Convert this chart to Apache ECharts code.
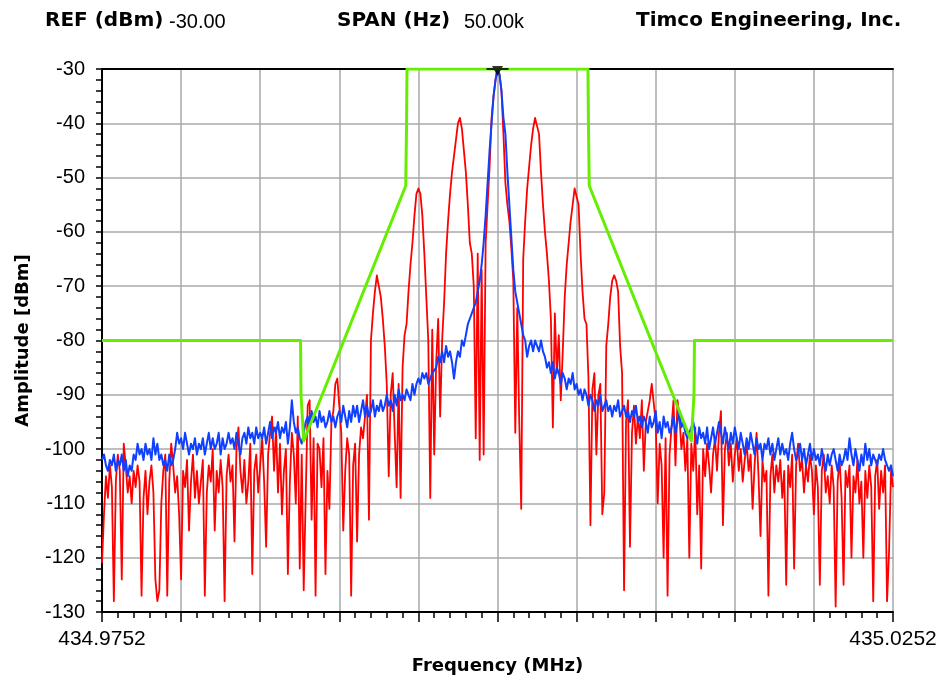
<!DOCTYPE html>
<html>
<head>
<meta charset="utf-8">
<script src="https://cdn.jsdelivr.net/npm/echarts/dist/echarts.min.js"></script>
<style>html,body{margin:0;padding:0;background:#fff}#c{width:940px;height:685px}</style>
</head>
<body>
<div id="c"></div>
<script>
// Frequency offset from centre (kHz) of first sample and spacing between samples
const startKHz = -25;
const stepKHz = 0.125;

// Red trace (dBm), one value per 0.125 kHz from -25 kHz to +25 kHz
const redLevels = [
-121,-112,-105,-109,-103,-107,-128,-106,
-101,-104,-124,-99,-103,-108,-105,-110,
-104,-107,-103,-106,-127,-109,-104,-112,
-106,-103,-108,-124,-128,-126,-110,-104,
-101,-127,-106,-99,-103,-108,-105,-112,
-124,-104,-107,-102,-115,-106,-101,-109,
-104,-110,-106,-102,-127,-108,-103,-106,
-100,-115,-104,-108,-102,-107,-128,-105,
-101,-106,-103,-117,-100,-96,-104,-108,
-102,-110,-106,-99,-123,-104,-101,-108,
-103,-98,-106,-118,-101,-97,-94,-104,
-96,-108,-99,-112,-104,-100,-123,-106,
-97,-101,-110,-94,-122,-101,-126,-109,
-92,-91,-113,-98,-127,-99,-100,-107,
-98,-123,-104,-111,-95,-93,-88,-87,
-92,-97,-115,-104,-98,-101,-127,-103,
-99,-117,-101,-96,-98,-94,-90,-113,
-80,-75,-71,-68,-68,-72,-76,-81,
-88,-105,-90,-86,-97,-107,-88,-109,
-85,-79,-77,-71,-66,-62,-57,-53,
-52,-53,-57,-64,-72,-80,-109,-78,
-101,-84,-76,-94,-80,-73,-64,-58,
-53,-49,-46,-43,-40,-39,-41,-45,
-49,-55,-62,-64,-70,-98,-64,-102,
-67,-101,-62,-55,-48,-39,-35,-32,
-30,-31,-34,-42,-51,-55,-58,-63,
-69,-97,-74,-95,-111,-65,-58,-52,
-48,-44,-41,-39,-39,-42,-49,-55,
-60,-64,-69,-76,-96,-75,-86,-79,
-91,-82,-72,-66,-62,-58,-55,-52,
-52,-55,-64,-71,-76,-77,-87,-114,
-89,-86,-101,-90,-88,-112,-108,-81,
-77,-72,-69,-68,-69,-71,-81,-86,
-126,-95,-91,-118,-97,-92,-99,-94,
-98,-91,-104,-95,-93,-91,-88,-88,
-95,-110,-99,-103,-120,-98,-127,-101,
-96,-91,-103,-91,-94,-100,-97,-104,
-98,-120,-99,-104,-96,-112,-103,-122,
-100,-105,-99,-103,-108,-101,-98,-104,
-97,-93,-114,-100,-97,-103,-99,-106,
-101,-98,-104,-100,-106,-102,-99,-104,
-101,-111,-103,-97,-105,-116,-102,-106,
-104,-127,-105,-101,-108,-103,-106,-102,
-109,-104,-125,-103,-107,-101,-122,-103,
-99,-104,-102,-108,-103,-106,-101,-104,
-112,-103,-107,-125,-104,-101,-108,-105,
-110,-103,-107,-129,-106,-102,-109,-125,
-104,-107,-103,-120,-105,-108,-102,-110,
-106,-120,-104,-109,-103,-107,-128,-105,
-102,-111,-104,-108,-103,-128,-119,-104,
-107
];

// Blue trace (dBm), same sampling
const blueLevels = [
-102,-101,-103,-104,-102,-103,-101,-104,
-102,-103,-101,-104,-102,-105,-103,-104,
-101,-102,-99,-101,-100,-102,-99,-101,
-100,-102,-98,-101,-99,-102,-101,-103,
-102,-104,-101,-103,-102,-100,-97,-99,
-98,-100,-97,-99,-101,-99,-100,-98,
-101,-99,-100,-98,-101,-99,-97,-100,
-98,-100,-99,-97,-101,-98,-100,-99,
-97,-99,-98,-100,-97,-99,-101,-98,
-97,-99,-96,-98,-97,-99,-96,-98,
-97,-98,-96,-99,-97,-95,-98,-96,
-97,-95,-98,-96,-97,-95,-99,-96,
-91,-95,-97,-96,-98,-99,-97,-95,
-94,-96,-93,-95,-94,-96,-93,-95,
-94,-96,-95,-93,-95,-94,-96,-94,
-93,-95,-92,-94,-96,-93,-95,-92,
-94,-92,-95,-93,-91,-94,-92,-94,
-93,-91,-94,-92,-93,-91,-93,-92,
-90,-92,-91,-93,-90,-92,-89,-91,
-90,-91,-89,-90,-91,-88,-90,-88,
-87,-88,-86,-87,-86,-88,-87,-86,
-86,-85,-83,-84,-82,-84,-81,-83,
-82,-84,-87,-84,-82,-83,-80,-81,
-79,-77,-76,-75,-74,-73,-71,-69,
-66,-62,-57,-51,-45,-40,-35,-32,
-30,-31,-34,-39,-42,-49,-55,-61,
-67,-71,-73,-75,-77,-79,-80,-83,
-81,-80,-82,-80,-81,-82,-80,-82,
-83,-85,-84,-86,-84,-87,-85,-86,
-88,-86,-87,-89,-87,-88,-86,-89,
-88,-90,-89,-91,-89,-90,-92,-90,
-91,-93,-91,-92,-90,-93,-92,-91,
-93,-92,-94,-92,-93,-91,-94,-93,
-92,-94,-93,-95,-93,-94,-92,-95,
-94,-96,-94,-95,-97,-94,-96,-95,
-93,-97,-95,-98,-94,-96,-95,-97,
-96,-94,-97,-95,-93,-96,-95,-97,
-98,-97,-96,-95,-97,-99,-96,-98,
-97,-99,-96,-100,-98,-96,-99,-97,
-95,-97,-99,-96,-98,-100,-97,-99,
-96,-98,-100,-97,-99,-101,-98,-100,
-97,-99,-101,-98,-100,-99,-102,-99,
-100,-98,-101,-99,-102,-100,-98,-101,
-99,-101,-100,-102,-99,-97,-100,-102,
-101,-99,-102,-100,-103,-101,-99,-102,
-100,-102,-101,-103,-100,-102,-104,-101,
-103,-101,-100,-102,-104,-101,-103,-102,
-100,-102,-98,-101,-103,-100,-102,-104,
-101,-103,-99,-102,-100,-103,-101,-102,
-103,-101,-102,-100,-102,-103,-104,-103,
-105
];

// Green limit mask
const maskFreq  = [-25, -12.45, -12.42, -12.25, -5.8, -5.75, -5.72, 5.72, 5.75, 5.8, 12.25, 12.42, 12.45, 25];
const maskLevel = [-80, -80, -90, -98.5, -51.5, -40.5, -30, -30, -40.5, -51.5, -98.5, -90, -80, -80];

// Peak marker
const markerFreq = [0];
const markerLevel = [-30];

// Axis ranges and labels
const xMin = -25, xMax = 25, xStep = 5;
const yMin = -130, yMax = -30, yStep = 10;
const xTickLabels = ['434.9752', '435.0252'];

// Header texts
const headerLabels = ['REF (dBm)', 'SPAN (Hz)', 'Timco Engineering, Inc.'];
const headerValues = ['-30.00', '50.00k', ''];

const toPairs = (levels) => levels.map((v, i) => [startKHz + i * stepKHz, v]);

const chart = echarts.init(document.getElementById('c'), null, {renderer: 'canvas'});

const boldFont = 'bold 20px "DejaVu Sans"';
const valueFont = '20px "Liberation Sans"';
const headerX = [45, 337, 636];
const valueX = [169, 464, 0];

const graphics = [];
headerLabels.forEach((t, i) => {
  graphics.push({type: 'text', x: headerX[i], y: 21, silent: true,
    style: {text: t, font: boldFont, fill: '#000', verticalAlign: 'middle', textVerticalAlign: 'middle'}});
  if (headerValues[i]) {
    graphics.push({type: 'text', x: valueX[i], y: 22, silent: true,
      style: {text: headerValues[i], font: valueFont, fill: '#000', verticalAlign: 'middle', textVerticalAlign: 'middle'}});
  }
});

const gridColor = '#a8a8a8';

chart.setOption({
  animation: false,
  backgroundColor: '#fff',
  graphic: graphics,
  grid: {left: 102, right: 47, top: 69, bottom: 73, containLabel: false, outerBoundsMode: 'none'},
  xAxis: [{
    type: 'value', min: xMin, max: xMax, interval: xStep, position: 'bottom',
    axisLine: {show: true, onZero: false, lineStyle: {color: '#000', width: 2}},
    axisTick: {show: true, length: 10, lineStyle: {color: '#000', width: 1.5}},
    minorTick: {show: true, splitNumber: 5, length: 6, lineStyle: {color: '#000', width: 1.5}},
    splitLine: {show: true, lineStyle: {color: gridColor, width: 1.5}},
    axisLabel: {
      formatter: (v) => v === xMin ? xTickLabels[0] : (v === xMax ? xTickLabels[1] : ''),
      fontSize: 21, fontFamily: 'Liberation Sans', color: '#000', margin: 17,
      showMinLabel: true, showMaxLabel: true, hideOverlap: false
    },
    name: 'Frequency (MHz)', nameLocation: 'middle', nameGap: 45,
    nameTextStyle: {fontFamily: 'DejaVu Sans', fontWeight: 'bold', fontSize: 18, color: '#000'}
  }, {
    type: 'value', min: xMin, max: xMax, position: 'top',
    axisLine: {show: true, onZero: false, lineStyle: {color: '#000', width: 2}},
    axisTick: {show: false}, axisLabel: {show: false}, splitLine: {show: false}
  }],
  yAxis: {
    type: 'value', min: yMin, max: yMax, interval: yStep,
    axisLine: {show: true, onZero: false, lineStyle: {color: '#000', width: 2}},
    axisTick: {show: true, length: 6, lineStyle: {color: '#000', width: 1.5}},
    minorTick: {show: true, splitNumber: 5, length: 6, lineStyle: {color: '#000', width: 1.5}},
    splitLine: {show: true, lineStyle: {color: gridColor, width: 1.5}},
    axisLabel: {fontSize: 20, fontFamily: 'Liberation Sans', color: '#000', margin: 17},
    name: 'Amplitude [dBm]', nameLocation: 'middle', nameGap: 70, nameRotate: 90,
    nameTextStyle: {fontFamily: 'DejaVu Sans', fontWeight: 'bold', fontSize: 18, color: '#000'}
  },
  series: [{
    name: 'red', type: 'line', data: toPairs(redLevels), showSymbol: false, symbol: 'none',
    lineStyle: {color: '#ff0000', width: 1.8, join: 'round'}, z: 2, silent: true
  }, {
    name: 'blue', type: 'line', data: toPairs(blueLevels), showSymbol: false, symbol: 'none',
    lineStyle: {color: '#1040ff', width: 2, join: 'round'}, z: 3, silent: true
  }, {
    name: 'mask', type: 'line', data: maskFreq.map((f, i) => [f, maskLevel[i]]), showSymbol: false, symbol: 'none',
    lineStyle: {color: '#66ee00', width: 3, join: 'round'}, z: 4, silent: true
  }, {
    name: 'marker', type: 'scatter', data: markerFreq.map((f, i) => [f, markerLevel[i]]),
    symbol: 'path://M5,0L15,0L10,10Z M0,2L20,2L20,4L0,4Z', symbolSize: [22, 10], symbolOffset: [0, 2],
    itemStyle: {color: '#000'}, z: 6, silent: true, clip: false
  }]
});
</script>
</body>
</html>
